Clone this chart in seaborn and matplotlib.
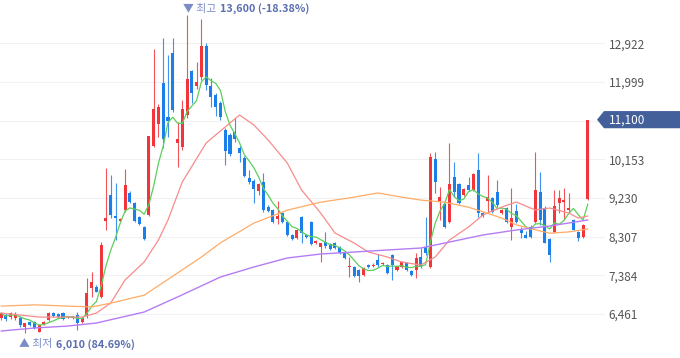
import numpy as np
import pandas as pd
import matplotlib
matplotlib.use("Agg")
import matplotlib.pyplot as plt
import matplotlib.transforms as mtransforms
from matplotlib.patches import Polygon
import seaborn as sns

# daily candles (open, high, low, close)
opens = [6365, 6440, 6390, 6370, 6370, 6150, 6270, 6270, 6040, 6220,
         6320, 6480, 6460, 6480, 6390, 6370, 6440, 6270, 6410, 7080,
         7110, 6870, 8680, 9300, 8800, 8680, 8940, 9350, 9110, 8780,
         8540, 8820, 10470, 11000, 11975, 11160, 12690, 10540, 10450, 11210,
         12260, 11900, 12120, 12860, 11900, 11690, 11500, 10850, 10730, 10800,
         10420, 10180, 9710, 9640, 9400, 9610, 9020, 8940, 8730, 8870,
         8660, 8350, 8280, 8780, 8350, 8660, 8160, 8060, 8180, 8130,
         8160, 8060, 7940, 7580, 7580, 7510, 7390, 7630, 7610, 7750,
         7660, 7630, 7870, 7510, 7580, 7680, 7490, 7510, 7820, 8060,
         7580, 10160, 9130, 9090, 8660, 9730, 9560, 9300, 9540, 9420,
         9900, 8870, 9160, 9230, 9370, 8870, 8990, 8540, 8920, 8470,
         8350, 8540, 8660, 9370, 8990, 8250, 8420, 9110, 9140, 8940,
         8700, 8420, 8300, 9210]
highs = [6510, 6480, 6510, 6500, 6410, 6250, 6300, 6290, 6220, 6290,
         6510, 6520, 6490, 6500, 6420, 6420, 6510, 6380, 7320, 7460,
         7150, 8180, 9950, 9780, 9590, 8760, 9920, 9400, 9140, 8800,
         8560, 10720, 12790, 11470, 13050, 12640, 13050, 11040, 11570, 13600,
         12290, 12480, 13500, 12930, 12090, 11740, 11540, 10900, 10780, 11140,
         10470, 10230, 9900, 9680, 9590, 9830, 9060, 8970, 9160, 8900,
         8680, 8370, 8490, 8800, 8370, 8680, 8220, 8160, 8420, 8150,
         8190, 8080, 7960, 7820, 7600, 7530, 7580, 7660, 7680, 7890,
         7700, 7650, 7900, 7610, 7720, 7700, 7510, 7920, 8040, 8780,
         10300, 10330, 9490, 9110, 10540, 10090, 9590, 9470, 9730, 9830,
         10300, 8900, 9780, 9260, 9660, 8960, 9010, 9470, 9090, 8540,
         8450, 8590, 10330, 9850, 9040, 8270, 9420, 9420, 9470, 9350,
         8730, 8440, 8600, 11100]
lows = [6320, 6300, 6340, 6320, 6150, 6010, 6180, 6100, 6020, 6200,
        6290, 6400, 6370, 6320, 6370, 6340, 6080, 6250, 6370, 6870,
        6980, 6850, 8470, 8750, 8230, 8650, 8900, 9110, 8660, 8590,
        8230, 8800, 10450, 10690, 10420, 10690, 11280, 9970, 10380, 11140,
        11500, 11830, 12050, 11810, 11400, 11190, 11090, 10020, 10230, 10570,
        10090, 9730, 9560, 9110, 9300, 8900, 8900, 8630, 8610, 8640,
        8320, 8230, 8250, 8160, 8280, 8110, 8130, 7700, 8040, 7990,
        8010, 7900, 7780, 7340, 7350, 7230, 7370, 7560, 7590, 7580,
        7640, 7420, 7270, 7490, 7560, 7490, 7370, 7320, 7560, 7870,
        7560, 9350, 8700, 8510, 8640, 9250, 9090, 9280, 9400, 9400,
        8780, 8780, 8870, 8880, 9020, 8850, 8630, 8230, 8640, 8280,
        8270, 8270, 8640, 8580, 8150, 7700, 8390, 8870, 8700, 8870,
        8460, 8200, 8280, 9190]
closes = [6480, 6340, 6480, 6460, 6200, 6250, 6200, 6130, 6200, 6270,
          6480, 6410, 6390, 6340, 6390, 6410, 6250, 6370, 6960, 7230,
          6990, 8110, 8750, 8820, 8750, 8730, 9540, 9130, 8680, 8610,
          8250, 10700, 11350, 11400, 10640, 11070, 11330, 10640, 11350, 12070,
          11740, 12000, 12860, 11930, 11640, 11400, 11160, 10350, 10280, 10640,
          10300, 9750, 9610, 9450, 9560, 8940, 8920, 8660, 8800, 8660,
          8350, 8250, 8470, 8390, 8300, 8130, 8200, 8160, 8080, 8010,
          8040, 7920, 7800, 7610, 7370, 7370, 7560, 7580, 7640, 7630,
          7690, 7440, 7630, 7610, 7700, 7510, 7390, 7800, 7580, 7920,
          10210, 9610, 9250, 8530, 9560, 9370, 9110, 9450, 9420, 9800,
          8870, 8800, 9250, 8900, 9060, 8940, 8650, 8750, 8660, 8390,
          8280, 8300, 9420, 8700, 8160, 7870, 9040, 9230, 9180, 8990,
          8470, 8280, 8590, 11100]

# moving average lines (candle index, price)
ma20_idx = [0, 8, 17, 20, 23, 26, 30, 33, 35, 38, 43, 47, 50, 53, 56, 60, 63, 67,
            70, 74, 77, 81, 84, 88, 91, 94, 98, 101, 105, 108, 112, 115, 119, 121, 123]
ma20_val = [6484, 6389, 6389, 6484, 6723, 7273, 7702, 8227, 8705, 9612, 10543, 10925,
            11211, 10973, 10614, 10065, 9421, 8872, 8394, 8156, 7941, 7821, 7702, 7630,
            7821, 8227, 8538, 8824, 9015, 9134, 8943, 8991, 8872, 8752, 8800]
ma60_idx = [0, 7, 14, 19, 23, 30, 37, 42, 46, 53, 60, 67, 74, 79, 84, 88, 93, 98,
            101, 105, 108, 112, 115, 119, 123]
ma60_val = [6650, 6680, 6650, 6630, 6720, 6910, 7440, 7820, 8160, 8630, 8940, 9130,
            9250, 9350, 9250, 9180, 9130, 9010, 8900, 8750, 8590, 8470, 8390, 8420, 8490]
ma120_idx = [0, 7, 14, 20, 30, 37, 46, 53, 60, 67, 74, 81, 88, 94, 101, 108, 115, 123]
ma120_val = [6055, 6127, 6174, 6246, 6508, 6867, 7344, 7583, 7798, 7893, 7941, 7989,
             8036, 8179, 8347, 8466, 8561, 8705]

tick_vals = [6461, 7384, 8307, 9230, 10153, 11076, 11999, 12922]
last_price = 11100

UP = "#f2353b"
DOWN = "#1c7fe9"

sns.set_theme(style="white")
plt.rcParams["font.family"] = ["Noto Sans CJK KR", "DejaVu Sans"]

fig = plt.figure(figsize=(6.8, 3.58), dpi=100)
ax = fig.add_axes([0, 0, 605 / 680, 1])

df = pd.DataFrame({"o": opens, "h": highs, "l": lows, "c": closes})
df["i"] = np.arange(len(df))
df["ma5"] = df["c"].rolling(5, min_periods=1).mean()

for g in tick_vals:
    ax.axhline(g, color="#f1f1f1", lw=0.8, zorder=0)

colors = [UP if c > o else (DOWN if c < o else "#333333") for o, c in zip(df.o, df.c)]
ax.vlines(df.i, df.l, df.h, colors=colors, lw=0.8, alpha=0.85, zorder=2)
bottoms = np.minimum(df.o, df.c)
heights = np.maximum(np.abs(df.c - df.o), 25)
ax.bar(df.i, heights, bottom=bottoms, width=0.64, color=colors, lw=0, zorder=3)

sns.lineplot(x=df.i, y=df.ma5, ax=ax, color="#5ccf5c", lw=0.9, zorder=4)
sns.lineplot(x=ma20_idx, y=ma20_val, ax=ax, color="#f78c8c", lw=0.9, zorder=4)
sns.lineplot(x=ma60_idx, y=ma60_val, ax=ax, color="#ffab66", lw=0.9, zorder=4)
sns.lineplot(x=ma120_idx, y=ma120_val, ax=ax, color="#b57cf4", lw=1.0, zorder=4)

ax.set_xlim(-0.21, 126.6)
ax.set_ylim(5411, 13956)
ax.set_xlabel("")
ax.set_ylabel("")
ax.set_xticks([])
ax.yaxis.tick_right()
ax.set_yticks([t for t in tick_vals if t != 11076])
ax.set_yticklabels([f"{t:,}" for t in tick_vals if t != 11076])
ax.tick_params(axis="y", length=0, pad=2.5, labelsize=8.5, labelcolor="#555555")
for s in ax.spines.values():
    s.set_visible(False)

# current price tag
tr = mtransforms.blended_transform_factory(ax.transAxes, ax.transData)
x0, x1, x2 = 597 / 605, 604 / 605, 680 / 605
dy = 205
tag = Polygon([(x0, last_price), (x1, last_price + dy), (x2, last_price + dy),
               (x2, last_price - dy), (x1, last_price - dy)], closed=True,
              transform=tr, clip_on=False, facecolor="#44609b", edgecolor="none")
ax.add_patch(tag)
ax.text(609 / 605, last_price, f"{last_price:,}", transform=tr, color="white",
        fontsize=8.5, va="center", ha="left", clip_on=False)

# max / min labels: number placed right after the Korean word
hi_i = int(np.argmax(highs))
lo_i = int(np.argmin(lows))
hi_lbl = ax.annotate("▼ 최고", (hi_i, max(highs)), xytext=(-3, 4.5),
                     textcoords="offset points", color="#7a8cc8", fontsize=7.8,
                     va="center", ha="left")
ax.annotate(f"{max(highs):,} (-18.38%)", (1, 0.5), xycoords=hi_lbl, xytext=(2.5, 0),
            textcoords="offset points", color="#5a6eb0", fontsize=7.8,
            fontweight="bold", va="center", ha="left")
lo_lbl = ax.annotate("▲ 최저", (lo_i, min(lows)), xytext=(-4, -8),
                     textcoords="offset points", color="#7a8cc8", fontsize=7.8,
                     va="center", ha="left")
ax.annotate(f"{min(lows):,} (84.69%)", (1, 0.5), xycoords=lo_lbl, xytext=(2.5, 0),
            textcoords="offset points", color="#5a6eb0", fontsize=7.8,
            fontweight="bold", va="center", ha="left")

fig.savefig("out.png", dpi=100)
